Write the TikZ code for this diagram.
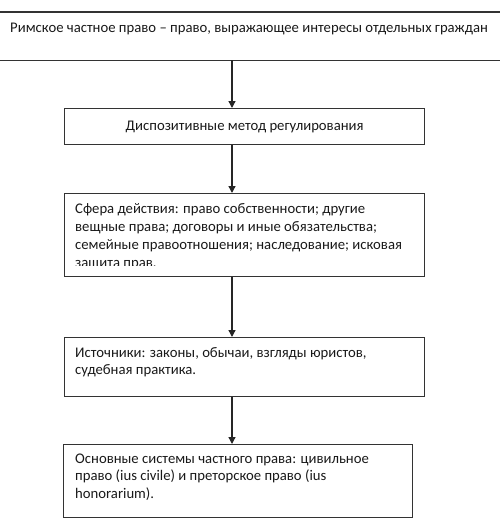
\documentclass[tikz,border=0pt]{standalone}
\usepackage{fontspec}
\setmainfont{Carlito}
\usetikzlibrary{arrows.meta}
\begin{document}
\begin{tikzpicture}[x=1pt,y=-1pt,
  boxline/.style={draw=black!80,line width=1.3pt},
  box/.style={boxline, inner sep=0pt, anchor=north west},
  txt/.style={inner sep=0pt, anchor=base west, align=left, text=black!90, font=\fontsize{14.7}{17.8}\selectfont},
  arr/.style={draw=black!85, line width=1.3pt, -{Triangle[length=7pt,width=7pt]}}]
\useasboundingbox (0,0) rectangle (499,520);
% top band (only horizontal rules)
\node[inner sep=0pt, anchor=north west, minimum width=510pt, minimum height=48pt] (b1) at (-5,12) {};
\draw[boxline] (b1.north west) -- (b1.north east);
\draw[boxline] (b1.south west) -- (b1.south east);
\node[txt] (t1) at (10,32.5) {Римское частное право – право, выражающее интересы отдельных граждан};
% boxes
\node[box, minimum width=360pt, minimum height=36pt, text=black!90, font=\fontsize{14.7}{17.8}\selectfont] (b2) at (64,108) {Диспозитивные метод регулирования};
\node[box, minimum width=360pt, minimum height=83pt] (b3) at (64,193) {};
\node[box, minimum width=360pt, minimum height=59pt] (b4) at (64,337) {};
\node[box, minimum width=349pt, minimum height=73pt] (b5) at (63,444) {};
% texts (anchor = baseline of the last line)
\begin{scope}
\clip (64,193) rectangle (424,265);
\node[txt] (t3) at (75,267) {Сфера действия: право собственности; другие\\вещные права; договоры и иные обязательства;\\семейные правоотношения; наследование; исковая\\защита прав.};
\end{scope}
\node[txt] (t4) at (75,374.8) {Источники: законы, обычаи, взгляды юристов,\\судебная практика.};
\node[txt] (t5) at (75,498.6) {Основные системы частного права: цивильное\\право (ius civile) и преторское право (ius\\honorarium).};
% connectors
\coordinate (ax) at (232,0);
\draw[arr] (b1.south -| ax) -- (b2.north -| ax);
\draw[arr] (b2.south -| ax) -- (b3.north -| ax);
\draw[arr] (b3.south -| ax) -- (b4.north -| ax);
\draw[arr] (b4.south -| ax) -- (b5.north -| ax);
\end{tikzpicture}
\end{document}
